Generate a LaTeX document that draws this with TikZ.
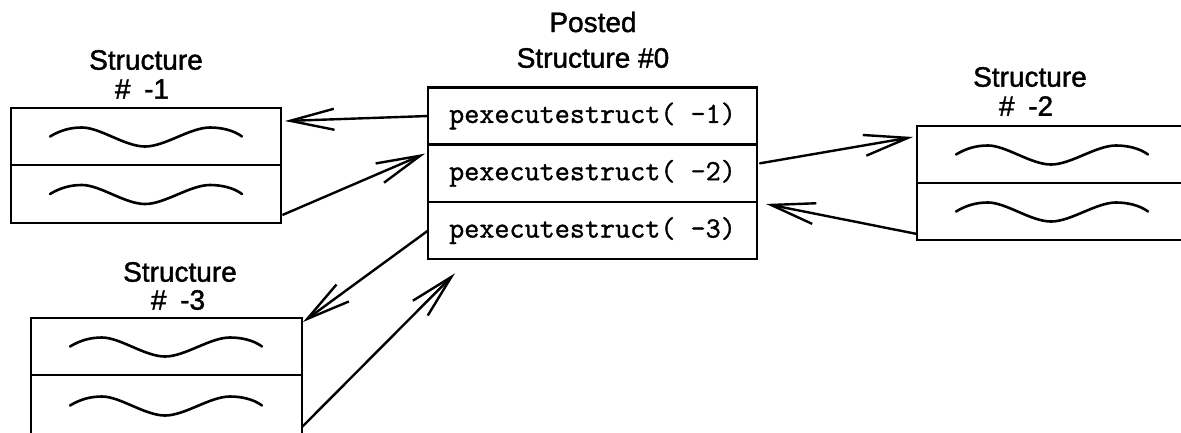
\documentclass[tikz,border=0pt]{standalone}
\usepackage{fontspec}
\newfontfamily\labelfont{Liberation Sans}[FakeBold=1.4]
\newfontfamily\codefont{Latin Modern Mono}[FakeBold=1.2]
\usetikzlibrary{arrows.meta,calc}

\begin{document}
\begin{tikzpicture}[x=1pt,y=-1pt,line width=2.4pt,
  cell/.style={draw, rectangle, inner sep=0pt, outer sep=0pt,
               minimum width=#1},
  callrow/.style={cell=329pt, minimum height=57.3pt,
                  font=\codefont\fontsize{29.3}{32}\selectfont},
  title/.style={font=\labelfont\fontsize{28}{30}\selectfont, inner sep=0pt},
  link/.style={-{Straight Barb[length=44pt,width=21pt]}, line cap=round, line join=round},
  wave/.pic={\draw[line cap=round, line width=2.6pt]
     (0,0) .. controls (10,-6) and (20,-9) .. (32,-9)
           .. controls (50,-9) and (75,10) .. (95,10)
           .. controls (115,10) and (140,-9) .. (160,-9)
           .. controls (172,-9) and (184,-6) .. (192,0);}]

\useasboundingbox (0,0) rectangle (1181,432);
\clip (0,0) rectangle (1181,432);

% posted structure with its three calls
\node[title] (ptitle) at (593,22) {Posted};
\node[title] (stitle) at (593,58) {Structure \#0};
\node[callrow] (r1) at (592.5,116) {pexecutestruct( -1)};
\node[callrow] (r2) at (592.5,173.3) {pexecutestruct( -2)};
\node[callrow] (r3) at (592.5,230.6) {pexecutestruct( -3)};

% structure -1
\node[title] (t1a) at (146,60) {Structure};
\node[title] (t1b) at (142,89) {\#\hspace{6pt} -1};
\node[cell=270pt, minimum height=57.5pt] (a1) at (146,136.5) {};
\node[cell=270pt, minimum height=57.5pt] (a2) at (146,194) {};

% structure -2
\node[title] (t2a) at (1030,77) {Structure};
\node[title] (t2b) at (1026,106) {\#\hspace{6pt} -2};
\node[cell=270pt, minimum height=57pt] (b1) at (1052,154.5) {};
\node[cell=270pt, minimum height=57pt] (b2) at (1052,211.5) {};

% structure -3
\node[title] (t3a) at (180,272) {Structure};
\node[title] (t3b) at (178,300) {\#\hspace{6pt} -3};
\node[cell=271pt, minimum height=57pt] (c1) at (166.5,346.5) {};
\node[cell=271pt, minimum height=61pt] (c2) at (166.5,405.5) {};

% wavy contents
\foreach \n in {a1,a2,b1,b2,c1,c2}
  \pic at ($(\n.west)+(39,0)$) {wave};

% calls and returns
\draw[link] (r1.west) -- ($(a1.east)+(4,-15.5)$);
\draw[link] ($(a2.south east)+(2,-8)$) -- ($(r2.north west)+(-3,9)$);
\draw[link] ($(r2.east)+(3,-10)$) -- ($(b1.north west)+(-4,11)$);
\draw[link] ($(b2.south west)+(0,-6)$) -- ($(r3.north east)+(9,2)$);
\draw[link] (r3.west) -- ($(c1.north east)+(1,4)$);
\draw[link] ($(c2.south east)+(0,-9)$) -- ($(r3.south west)+(27,14)$);
\end{tikzpicture}
\end{document}
